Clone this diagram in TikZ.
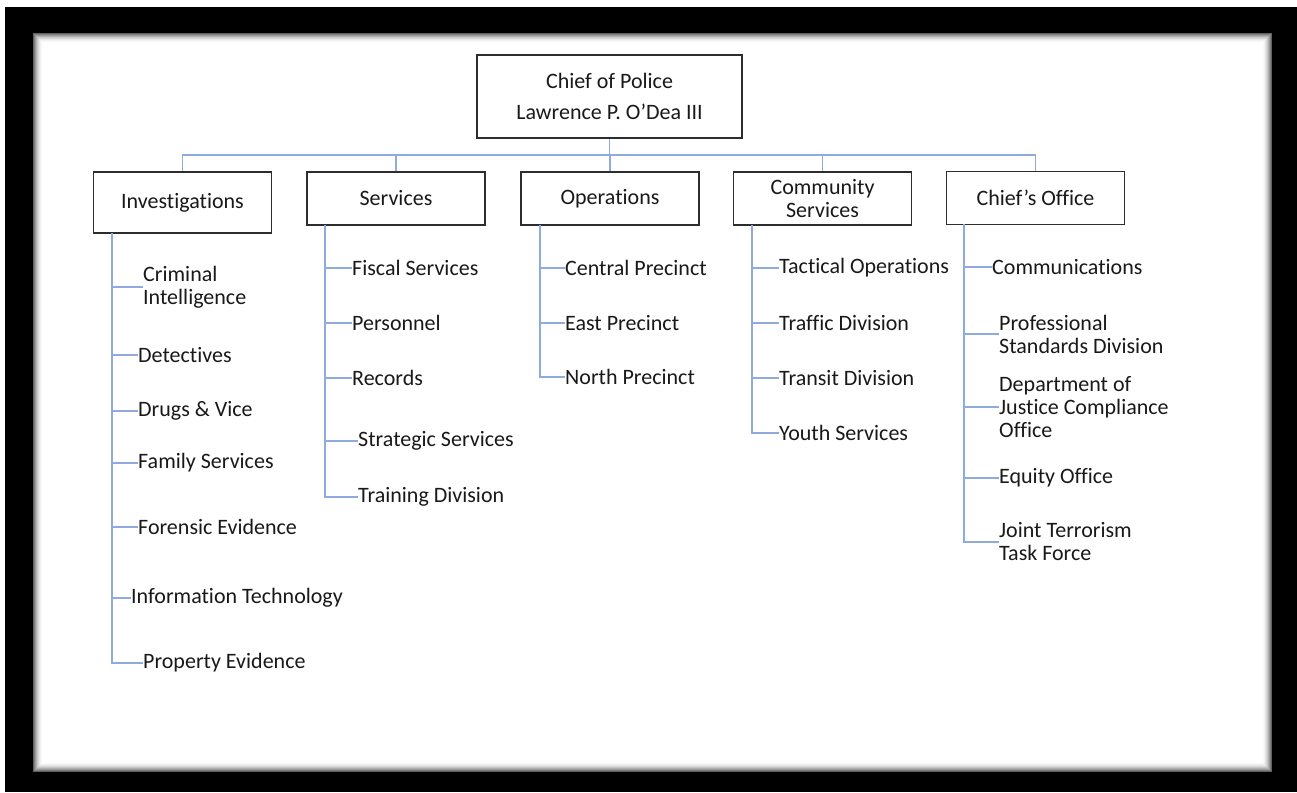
\documentclass[tikz,border=0pt]{standalone}
\usepackage{fontspec}
\setmainfont{Carlito}[RawFeature={-liga;-clig;-calt;-dlig;-ccmp;-rlig}]
\usepackage{tikz}
\definecolor{linkblue}{RGB}{143,170,220}
\definecolor{txt}{RGB}{25,25,25}
\definecolor{boxline}{RGB}{45,45,45}
\newcommand\orgfont{\fontsize{22}{23}\selectfont}

\begin{document}
\begin{tikzpicture}[x=1pt,y=-1pt]
	\tikzset{
	  unit/.style={draw=boxline,line width=1.6pt,fill=white,minimum width=178pt,
	    minimum height=53pt,inner sep=0pt,align=center,text=txt,font=\orgfont},
	  item/.style={anchor=west,inner sep=0pt,align=left,text=txt,font=\orgfont},
	  link/.style={draw=linkblue,line width=1.5pt},
	}
	\useasboundingbox (0,0) rectangle (1297,792);
	%FRAME
	\fill[black] (5,7) rectangle (1297,792);
	\fill[white] (33,33) rectangle (1272,772);
	\foreach \i in {0,...,9}{
	  \pgfmathsetmacro\shade{62*(1-\i/10)^2}
	  \draw[black!\shade,line width=1pt] (33.5+\i,33.5+\i) rectangle (1271.5-\i,771.5-\i);
	}
	%TOP
	\node[unit,minimum width=265pt,minimum height=83pt] (chief) at (609.5,96.5)
	  {Chief of Police\\[8pt]Lawrence P.~O’Dea III};
	%UNITS
	\node[unit,minimum height=61pt] (inv) at (182.5,202.5) {Investigations};
	\node[unit] (ser) at (396,198.5) {Services};
	\node[unit] (ope) at (610,198.5) {Operations};
	\node[unit] (com) at (822.5,198.5) {Community\\Services};
	\node[unit] (cho) at (1035.5,198) {Chief’s Office};
	%BUS
	\coordinate (bus) at (609,155);
	\draw[link] (chief.south) -- (chief.south |- bus);
	\draw[link] (inv.north) -- (inv.north |- bus) -- (cho.north |- bus) -- (cho.north);
	\foreach \u in {ser,ope,com}{
		\draw[link] (\u.north) -- (\u.north |- bus);
	  }
	%INVESTIGATIONS
	\coordinate (invtop) at (112,233);
	\foreach \n/\y/\x/\t in {ci/287/143/{Criminal\\Intelligence},dt/355/138/Detectives,
	    dv/411/138/{Drugs \& Vice},fs/463/138/{Family Services},fe/527/138/{Forensic Evidence},
	    it/598/131/{Information Technology},pe/663/143/{Property Evidence}}{
		\node[item] (\n) at (\x,\y) {\t};
		\draw[link] (invtop |- \n.west) -- (\n.west);
	  }
	\draw[link] (invtop) |- (pe.west);
	%SERVICES
	\coordinate (sertop) at (325,225);
	\foreach \n/\y/\x/\t in {fis/268/352/{Fiscal Services},per/323/352/Personnel,rec/378/352/Records,
	    str/441/358/{Strategic Services},tra/497/358/{Training Division}}{
		\node[item] (\n) at (\x,\y) {\t};
		\draw[link] (sertop |- \n.west) -- (\n.west);
	  }
	\draw[link] (sertop) |- (tra.west);
	%OPERATIONS
	\coordinate (opetop) at (540,225);
	\foreach \n/\y/\x/\t in {cen/268/565/{Central Precinct},eas/323/565/{East Precinct},
	    nor/377/565/{North Precinct}}{
		\node[item] (\n) at (\x,\y) {\t};
		\draw[link] (opetop |- \n.west) -- (\n.west);
	  }
	\draw[link] (opetop) |- (nor.west);
	%COMMUNITY SERVICES
	\coordinate (comtop) at (752,225);
	\foreach \n/\y/\x/\t in {tac/268/779/{Tactical Operations},trf/323/779/{Traffic Division},
	    trn/378/779/{Transit Division},you/433/779/{Youth Services}}{
		\node[item] (\n) at (\x,\y) {\t};
		\draw[link] (comtop |- \n.west) -- (\n.west);
	  }
	\draw[link] (comtop) |- (you.west);
	%CHIEF'S OFFICE
	\coordinate (chotop) at (964,224);
	\foreach \n/\y/\x/\t in {cmm/267/992/Communications,psd/334/999/{Professional\\Standards Division},
	    doj/407/999/{Department of\\Justice Compliance\\Office},equ/478/999/{Equity Office},
	    jtt/542/999/{Joint Terrorism\\Task Force}}{
		\node[item] (\n) at (\x,\y) {\t};
		\draw[link] (chotop |- \n.west) -- (\n.west);
	  }
	\draw[link] (chotop) |- (jtt.west);
\end{tikzpicture}
\end{document}
